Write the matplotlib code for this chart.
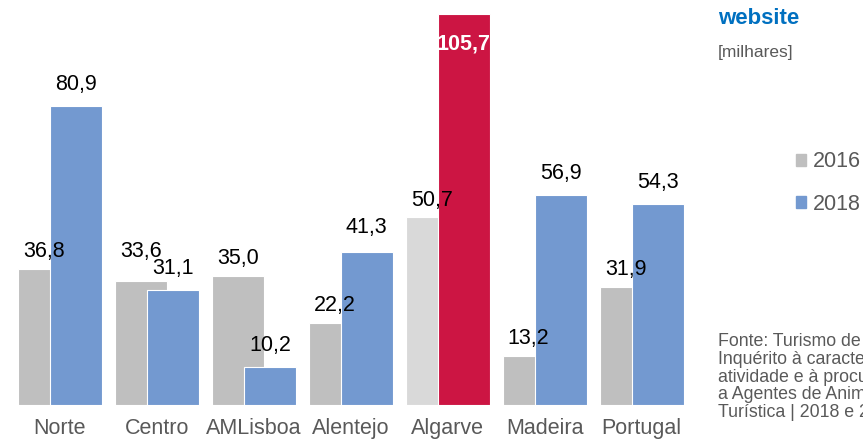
import matplotlib
matplotlib.use("Agg")
import matplotlib.pyplot as plt
import numpy as np
from matplotlib.patches import Patch

plt.rcParams['font.family'] = ['Liberation Sans', 'DejaVu Sans']

categories = ["Norte", "Centro", "AMLisboa", "Alentejo", "Algarve", "Madeira", "Portugal"]
v2016 = [36.8, 33.6, 35.0, 22.2, 50.7, 13.2, 31.9]
v2018 = [80.9, 31.1, 10.2, 41.3, 105.7, 56.9, 54.3]
labels2016 = ["36,8", "33,6", "35,0", "22,2", "50,7", "13,2", "31,9"]
labels2018 = ["80,9", "31,1", "10,2", "41,3", "105,7", "56,9", "54,3"]
highlight = "Algarve"

# extra label lift (points) where labels were moved by hand in the original
nudge2016 = {"Centro": 8.5}
nudge2018 = {"Alentejo": 2.2}

c16 = "#bfbfbf"
c16_hl = "#d9d9d9"
c18 = "#7399d0"
c18_hl = "#cc1543"

fig = plt.figure(figsize=(8.63, 4.40), dpi=100)
ax = fig.add_axes([11.5/863, 35/440, 678.5/863, 405/440])

x = np.arange(len(categories))
w = 0.536
off = 0.165
cols16 = [c16_hl if c == highlight else c16 for c in categories]
cols18 = [c18_hl if c == highlight else c18 for c in categories]
ax.bar(x - off, v2016, width=w, color=cols16, edgecolor="white", linewidth=0.8, zorder=2, label="2016")
ax.bar(x + off, v2018, width=w, color=cols18, edgecolor="white", linewidth=0.8, zorder=3, label="2018")

fs = 15.5
for xi, v, lab, c in zip(x, v2016, labels2016, categories):
    ax.annotate(lab, (xi - off, v), xytext=(0, 8.6 + nudge2016.get(c, 0)), textcoords="offset points",
                ha="center", va="baseline", fontsize=fs, color="#000000", zorder=5)
for xi, v, lab, c in zip(x, v2018, labels2018, categories):
    if c == highlight:
        ax.annotate(lab, (xi + off, v), xytext=(0, -14), textcoords="offset points",
                    ha="center", va="top", fontsize=fs, color="white", fontweight="bold", zorder=5)
    else:
        ax.annotate(lab, (xi + off, v), xytext=(0, 11.5 + nudge2018.get(c, 0)), textcoords="offset points",
                    ha="center", va="baseline", fontsize=fs, color="#000000", zorder=5)

ax.set_xlim(-0.5, len(categories) - 0.5)
ax.set_ylim(0, 109.5)
ax.set_xticks(x)
ax.set_xticklabels(categories, fontsize=fs, color="#595959")
ax.tick_params(axis="x", length=0, pad=9)
ax.set_yticks([])
for s in ax.spines.values():
    s.set_visible(False)

fig.text(718/863, 1 - 19/440, "website", fontsize=16, fontweight="bold", color="#0070c0", va="center", ha="left")
fig.text(718/863, 1 - 52/440, "[milhares]", fontsize=12.5, color="#595959", va="center", ha="left")

handles = [Patch(color=c16), Patch(color=c18)]
fig.legend(handles, ["2016", "2018"], loc="center left", bbox_to_anchor=(785/863, 1 - 183/440),
           frameon=False, fontsize=fs, handlelength=0.48, handleheight=0.48, handletextpad=0.3,
           labelspacing=1.0, labelcolor="#595959", borderpad=0)

footer = ["Fonte: Turismo de Portugal,",
          "Inquérito à caracterização da",
          "atividade e à procura dirigido",
          "a Agentes de Animação",
          "Turística | 2018 e 2016"]
for i, line in enumerate(footer):
    fig.text(718/863, 1 - (342 + i*17.5)/440, line, fontsize=12.8, color="#595959", va="center", ha="left")

fig.savefig("out.png", dpi=100)
